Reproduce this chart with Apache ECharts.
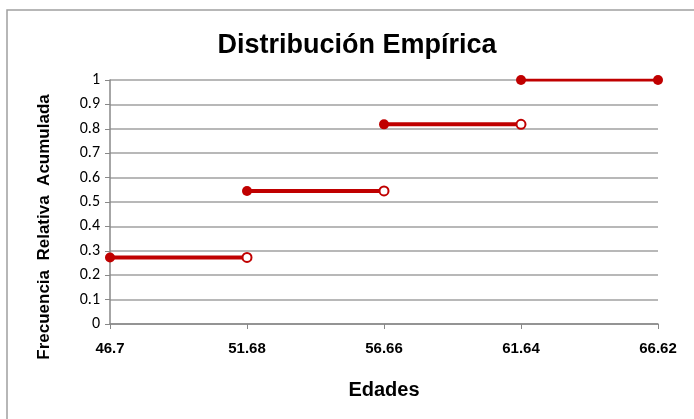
<!DOCTYPE html>
<html>
<head>
<meta charset="utf-8">
<script src="https://cdn.jsdelivr.net/npm/echarts@6/dist/echarts.min.js"></script>
<style>html,body{margin:0;padding:0;background:#fff}#c{width:694px;height:419px}</style>
</head>
<body>
<div id="c"></div>
<script>
var xTicks = [46.7, 51.68, 56.66, 61.64, 66.62];
var yTicks = [0, 0.1, 0.2, 0.3, 0.4, 0.5, 0.6, 0.7, 0.8, 0.9, 1];
var stepStart = [46.7, 51.68, 56.66, 61.64];
var stepEnd = [51.68, 56.66, 61.64, 66.62];
var stepValue = [0.2727, 0.5454, 0.8182, 1];
var endClosed = [false, false, false, true];

var RED = '#c00000';
var series = [];
for (var i = 0; i < stepStart.length; i++) {
  series.push({
    type: 'line',
    data: [[stepStart[i], stepValue[i]], [stepEnd[i], stepValue[i]]],
    symbol: 'circle',
    symbolSize: 10,
    lineStyle: {color: RED, width: i === 3 ? 3 : 4},
    itemStyle: {color: RED},
    silent: true,
    animation: false
  });
  if (!endClosed[i]) {
    series[series.length - 1].data[1] = {
      value: [stepEnd[i], stepValue[i]],
      symbol: 'circle',
      symbolSize: 9,
      itemStyle: {color: '#ffffff', borderColor: RED, borderWidth: 2}
    };
  }
}

var chart = echarts.init(document.getElementById('c'), null, {renderer: 'canvas'});
chart.setOption({
  backgroundColor: '#fff',
  animation: false,
  title: {
    text: 'Distribución Empírica',
    left: 352, top: 27, textAlign: 'center',
    textStyle: {fontFamily: 'Liberation Sans Narrow, Liberation Sans, Arial', fontWeight: 'bold', fontSize: 27, color: '#000'}
  },
  grid: {left: 110, top: 80, right: 36, bottom: 95, containLabel: false},
  xAxis: {
    type: 'value',
    min: 46.7, max: 66.62,
    splitLine: {show: false},
    axisLine: {lineStyle: {color: '#888', width: 1.5}},
    axisTick: {show: true, length: 5, lineStyle: {color: '#888'}, customValues: xTicks},
    axisLabel: {customValues: xTicks, formatter: function(v){return String(v);}, margin: 17,
      fontFamily: 'Liberation Sans, Arial', fontWeight: 'bold', fontSize: 15, color: '#000'},
    name: 'Edades', nameLocation: 'middle', nameGap: 56,
    nameTextStyle: {fontFamily: 'Liberation Sans, Arial', fontWeight: 'bold', fontSize: 20, color: '#000'}
  },
  yAxis: {
    type: 'value',
    min: 0, max: 1, interval: 0.1,
    splitLine: {show: true, lineStyle: {color: '#a0a0a0', width: 1.5}},
    axisLine: {show: true, lineStyle: {color: '#888', width: 1.5}},
    axisTick: {show: true, length: 5, lineStyle: {color: '#888'}},
    axisLabel: {margin: 10, fontFamily: 'Carlito, Liberation Sans, Arial', fontSize: 16, color: '#000',
      formatter: function(v){return String(Math.round(v*10)/10);}}
  },
  graphic: [
    {type: 'rect', shape: {x: 7, y: 10, width: 720, height: 440}, style: {fill: null, stroke: '#a0a0a0', lineWidth: 1.5}, silent: true},
    {type: 'text', x: 44, y: 227, rotation: Math.PI / 2,
      style: {text: 'Frecuencia  Relativa  Acumulada', fontFamily: 'Liberation Sans, Arial', fontWeight: 'bold', fontSize: 17, fill: '#000', align: 'center', verticalAlign: 'middle'}}
  ],
  series: series
});
</script>
</body>
</html>
